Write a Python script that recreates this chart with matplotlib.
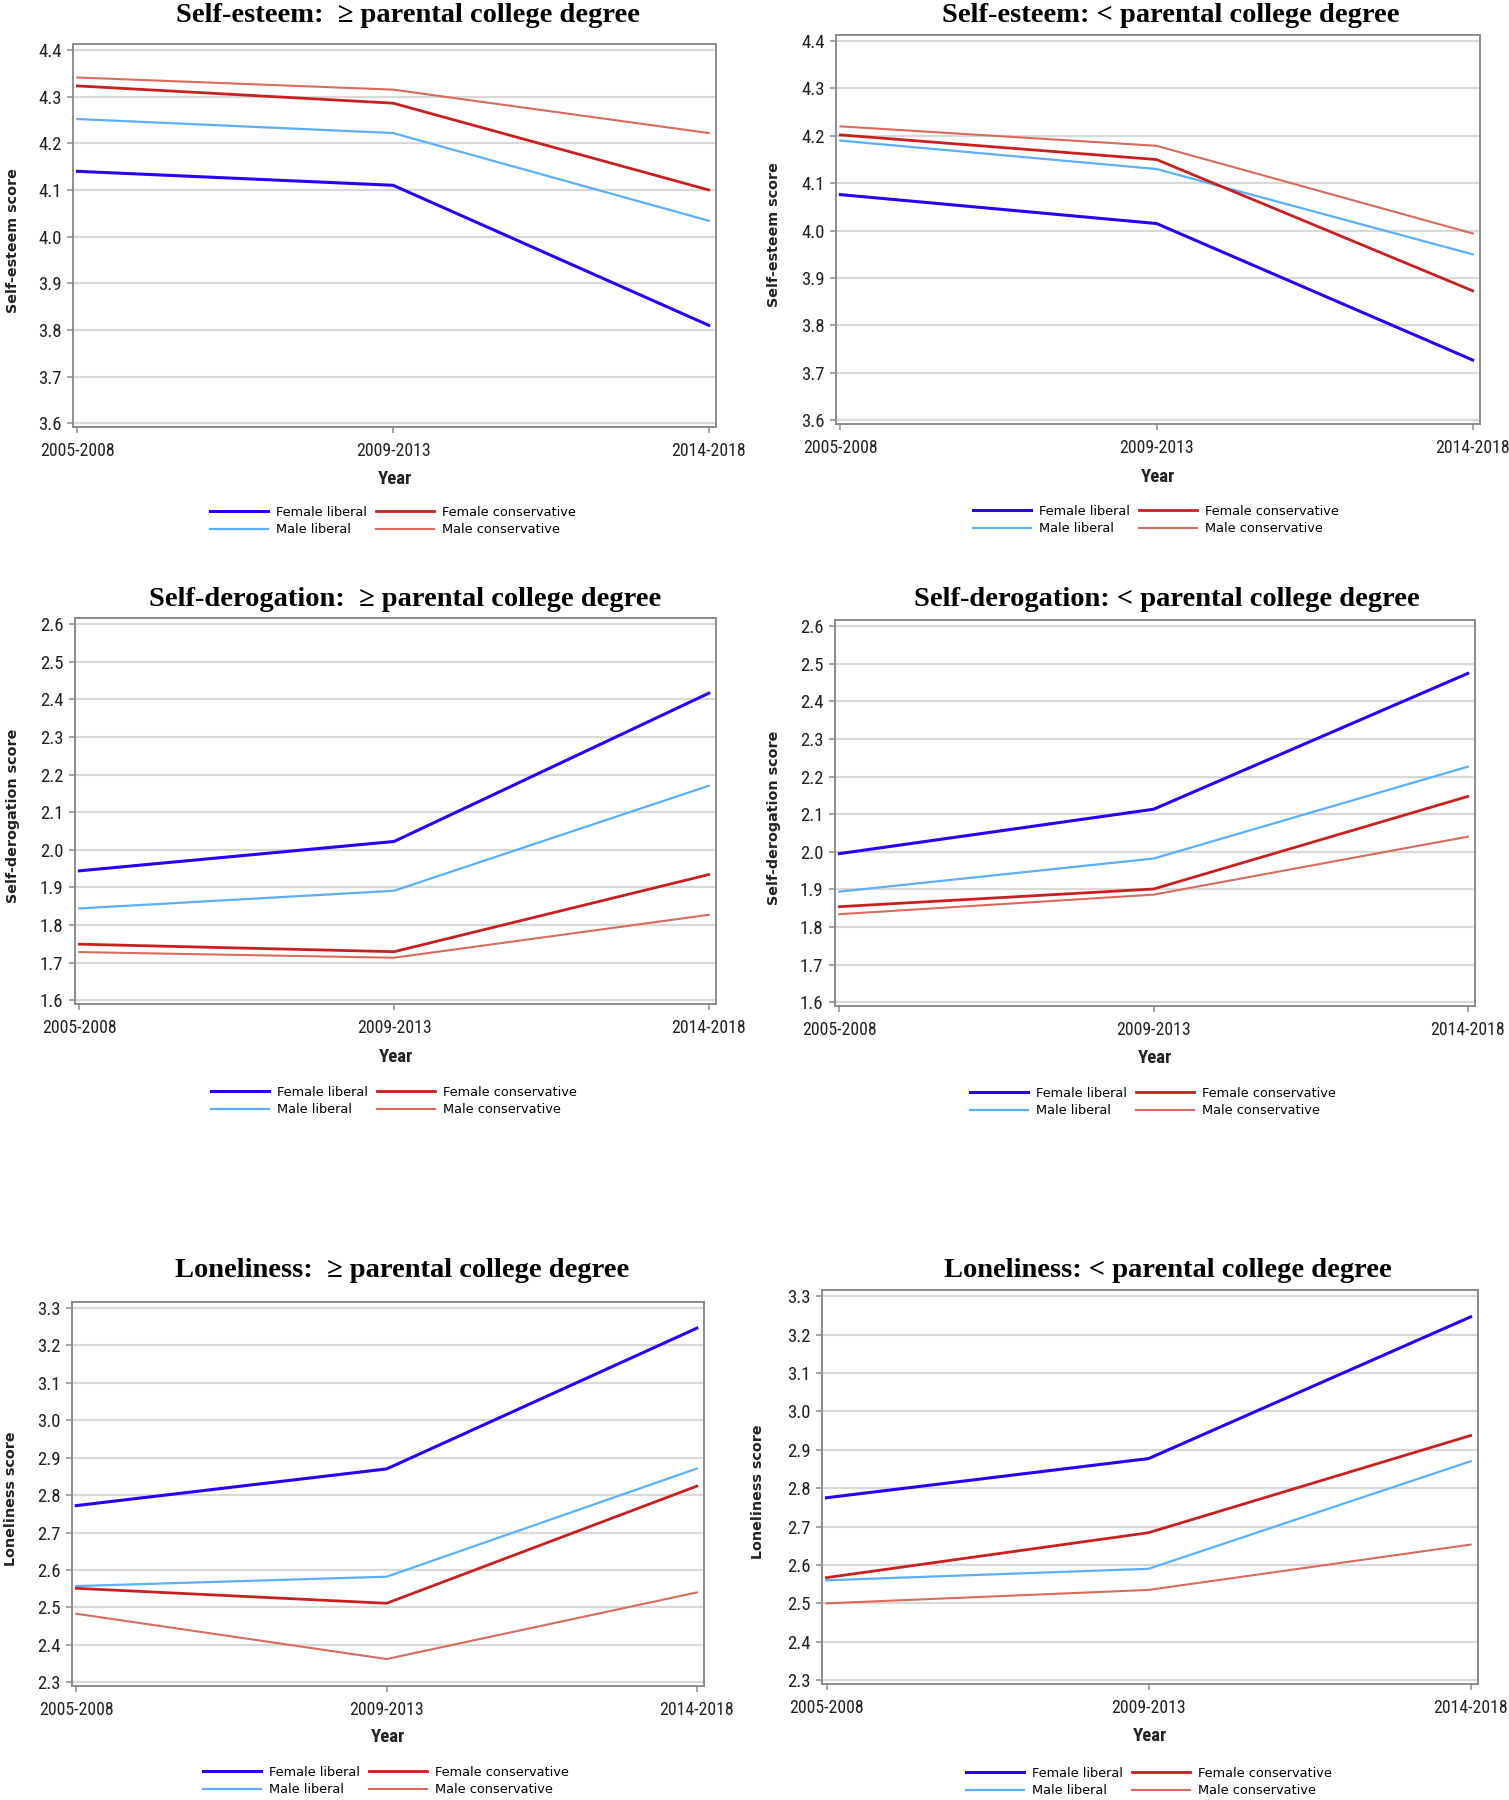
import matplotlib
matplotlib.use("Agg")
import matplotlib.pyplot as plt

W, H = 1509, 1800
NARROW = ["Roboto Condensed", "DejaVu Sans Condensed", "Liberation Sans Narrow", "Liberation Sans"]
SERIF = ["Liberation Serif", "DejaVu Serif"]
plt.rcParams["font.family"] = NARROW
plt.rcParams["font.stretch"] = "condensed"

periods = ["2005-2008", "2009-2013", "2014-2018"]
groups = ["Female liberal", "Male liberal", "Female conservative", "Male conservative"]
colors = ["#2400FA", "#5AB0FA", "#C8201E", "#DA6A5C"]
widths = [2.2, 1.6, 2.0, 1.5]

# self-esteem, >= parental college degree
se_hi_fl = [4.14, 4.11, 3.81]
se_hi_ml = [4.252, 4.222, 4.034]
se_hi_fc = [4.323, 4.286, 4.10]
se_hi_mc = [4.341, 4.315, 4.222]
# self-esteem, < parental college degree
se_lo_fl = [4.076, 4.015, 3.727]
se_lo_ml = [4.19, 4.13, 3.95]
se_lo_fc = [4.202, 4.15, 3.873]
se_lo_mc = [4.22, 4.179, 3.994]
# self-derogation, >=
sd_hi_fl = [1.944, 2.022, 2.416]
sd_hi_ml = [1.844, 1.891, 2.170]
sd_hi_fc = [1.749, 1.729, 1.934]
sd_hi_mc = [1.728, 1.713, 1.827]
# self-derogation, <
sd_lo_fl = [1.995, 2.113, 2.474]
sd_lo_ml = [1.894, 1.982, 2.226]
sd_lo_fc = [1.854, 1.901, 2.147]
sd_lo_mc = [1.834, 1.886, 2.04]
# loneliness, >=
lo_hi_fl = [2.772, 2.870, 3.246]
lo_hi_ml = [2.557, 2.582, 2.871]
lo_hi_fc = [2.551, 2.511, 2.824]
lo_hi_mc = [2.483, 2.362, 2.540]
# loneliness, <
lo_lo_fl = [2.775, 2.877, 3.246]
lo_lo_ml = [2.560, 2.590, 2.870]
lo_lo_fc = [2.567, 2.684, 2.937]
lo_lo_mc = [2.500, 2.535, 2.653]

se_ticks = [3.6, 3.7, 3.8, 3.9, 4.0, 4.1, 4.2, 4.3, 4.4]
sd_ticks = [1.6, 1.7, 1.8, 1.9, 2.0, 2.1, 2.2, 2.3, 2.4, 2.5, 2.6]
lo_ticks = [2.3, 2.4, 2.5, 2.6, 2.7, 2.8, 2.9, 3.0, 3.1, 3.2, 3.3]

# title, ylabel, ticks, series, axes box (l, t, r, b px), title (x, baseline), ylabel x, xlabel y, legend centre
panels = [
    ("Self-esteem:  \u2265 parental college degree", "Self-esteem score", se_ticks,
     [se_hi_fl, se_hi_ml, se_hi_fc, se_hi_mc], (73, 44, 716, 427), (408, 22), 13, 479, (393, 521)),
    ("Self-esteem: < parental college degree", "Self-esteem score", se_ticks,
     [se_lo_fl, se_lo_ml, se_lo_fc, se_lo_mc], (836, 35, 1480, 424), (1171, 22), 774, 477, (1156, 520)),
    ("Self-derogation:  \u2265 parental college degree", "Self-derogation score", sd_ticks,
     [sd_hi_fl, sd_hi_ml, sd_hi_fc, sd_hi_mc], (75, 618, 716, 1004), (405, 606), 13, 1057, (394, 1101)),
    ("Self-derogation: < parental college degree", "Self-derogation score", sd_ticks,
     [sd_lo_fl, sd_lo_ml, sd_lo_fc, sd_lo_mc], (835, 620, 1475, 1006), (1167, 606), 774, 1058, (1153, 1102)),
    ("Loneliness:  \u2265 parental college degree", "Loneliness score", lo_ticks,
     [lo_hi_fl, lo_hi_ml, lo_hi_fc, lo_hi_mc], (72, 1302, 704, 1686), (402, 1277), 11, 1737, (386, 1781)),
    ("Loneliness: < parental college degree", "Loneliness score", lo_ticks,
     [lo_lo_fl, lo_lo_ml, lo_lo_fc, lo_lo_mc], (822, 1290, 1478, 1684), (1168, 1277), 758, 1736, (1149, 1782)),
]

fig = plt.figure(figsize=(W / 100, H / 100), dpi=100)
fig.patch.set_facecolor("white")

for title, ylab, ticks, series, box, tpos, ylx, xly, legc in panels:
    l, t, r, b = box
    ax = fig.add_axes([l / W, 1 - b / H, (r - l) / W, (b - t) / H])
    x = range(len(periods))
    for vals, name, c, lw in zip(series, groups, colors, widths):
        ax.plot(x, vals, color=c, lw=lw, label=name, zorder=3)

    span = ticks[-1] - ticks[0]
    ax.set_xlim(-0.014, 2.023)
    ax.set_ylim(ticks[0] - 0.010 * span, ticks[-1] + 0.016 * span)
    ax.set_xticks(list(x))
    ax.set_xticklabels(periods)
    ax.set_yticks(ticks)
    ax.set_yticklabels([f"{v:.1f}" for v in ticks])
    ax.yaxis.grid(True, color="#D9D9D9", lw=1.6)
    ax.set_axisbelow(True)
    for s in ax.spines.values():
        s.set_color("#8C8C8C")
        s.set_linewidth(1.4)
    ax.tick_params(axis="both", direction="out", length=4.3, width=1.1,
                   color="#8C8C8C", labelcolor="#222222")
    ax.tick_params(axis="x", pad=6.5, labelsize=12.8)
    ax.tick_params(axis="y", pad=4.0, labelsize=13.5)

    ax.set_xlabel("Year", fontsize=13.5, fontweight="bold", va="center", color="#222222")
    ax.xaxis.set_label_coords(0.5, (b - xly) / (b - t))
    ax.set_ylabel(ylab, family="DejaVu Sans", stretch="normal", fontsize=10.3,
                  fontweight="bold", va="center", color="#222222")
    ax.yaxis.set_label_coords((ylx - l) / (r - l), 0.5 - 5 / (b - t))

    fig.text(tpos[0] / W, 1 - tpos[1] / H, title, family=SERIF, stretch="normal",
             fontsize=20.5, fontweight="bold", ha="center", va="baseline")

    ax.legend(loc="center", bbox_to_anchor=(legc[0] / W, 1 - legc[1] / H),
              bbox_transform=fig.transFigure, ncol=2, frameon=False,
              prop={"family": "DejaVu Sans", "stretch": "normal", "size": 9.3},
              handlelength=4.5, handletextpad=0.6, columnspacing=0.75,
              labelspacing=0.35, borderpad=0)

fig.savefig("out.png", dpi=100, facecolor="white")
